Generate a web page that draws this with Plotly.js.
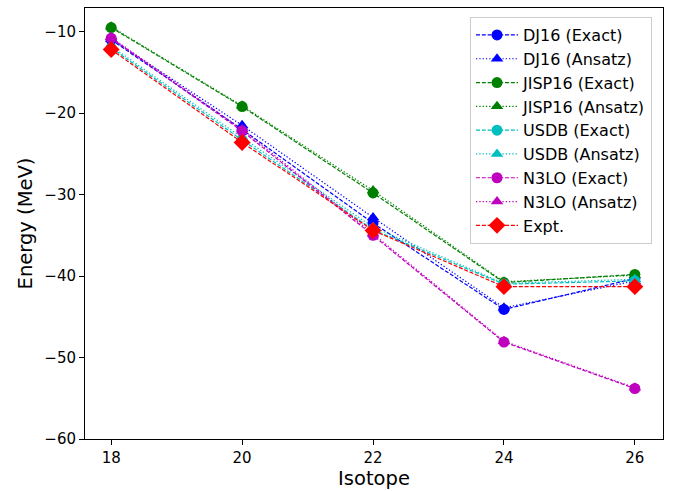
<!DOCTYPE html>
<html>
<head>
<meta charset="utf-8">
<script src="https://cdn.plot.ly/plotly-3.0.1.min.js"></script>
<style>html,body{margin:0;padding:0;background:#fff;}#chart{width:683px;height:491px;}</style>
</head>
<body>
<div id="chart"></div>
<script>
const isotopes = [18, 20, 22, 24, 26];
const dj16Exact = [-11.0, -22.0, -33.5, -44.1, -40.3];
const dj16Ansatz = [-10.9, -21.5, -32.8, -43.9, -40.6];
const jisp16Exact = [-9.5, -19.2, -29.8, -40.8, -39.8];
const jisp16Ansatz = [-9.4, -19.1, -29.5, -40.7, -39.9];
const usdbExact = [-12.0, -23.3, -34.3, -41.0, -40.6];
const usdbAnsatz = [-11.8, -23.0, -34.0, -40.9, -40.4];
const n3loExact = [-10.8, -22.2, -35.0, -48.1, -53.8];
const n3loAnsatz = [-10.7, -22.0, -34.8, -48.0, -53.7];
const expt = [-12.2, -23.6, -34.4, -41.3, -41.3];

const seriesNames = ['DJ16 (Exact)', 'DJ16 (Ansatz)', 'JISP16 (Exact)', 'JISP16 (Ansatz)',
  'USDB (Exact)', 'USDB (Ansatz)', 'N3LO (Exact)', 'N3LO (Ansatz)', 'Expt.'];
const seriesData = [dj16Exact, dj16Ansatz, jisp16Exact, jisp16Ansatz, usdbExact, usdbAnsatz, n3loExact, n3loAnsatz, expt];
const colors = ['#0000ff', '#0000ff', '#008000', '#008000', '#00bfbf', '#00bfbf', '#bf00bf', '#bf00bf', '#ff0000'];
const dashes = ['4px,1.8px', '1.3px,2px', '4px,1.8px', '1.3px,2px', '4px,1.8px', '1.3px,2px', '4px,1.8px', '1.3px,2px', '4px,1.8px'];
const symbols = ['circle', 'triangle-up', 'circle', 'triangle-up', 'circle', 'triangle-up', 'circle', 'triangle-up', 'diamond'];
const sizes = [11, 11, 11, 11, 11, 11, 11, 11, 13];

const traces = seriesNames.map((n, i) => ({
  x: isotopes, y: seriesData[i], name: n, type: 'scatter', mode: 'lines+markers',
  legendgroup: 'g' + i,
  line: {color: colors[i], width: 1.2, dash: dashes[i]},
  marker: {color: colors[i], symbol: symbols[i], size: sizes[i]}
}));

const layout = {
  width: 683, height: 491,
  margin: {l: 85, r: 20, t: 8, b: 52},
  paper_bgcolor: '#fff', plot_bgcolor: '#fff',
  font: {family: 'DejaVu Sans', size: 15, color: '#000'},
  showlegend: true,
  legend: {x: 0.981, xanchor: 'right', y: 0.979, yanchor: 'top', bgcolor: '#fff',
    bordercolor: '#cccccc', borderwidth: 1, font: {size: 16}, tracegroupgap: 0,
    itemwidth: 42, traceorder: 'grouped'},
  xaxis: {range: [17.6, 26.43], tickvals: [18, 20, 22, 24, 26], ticks: 'outside', ticklen: 5,
    tickcolor: '#000', showline: true, mirror: true, linecolor: '#000', linewidth: 1,
    showgrid: false, zeroline: false, title: {text: 'Isotope', font: {size: 19.5}, standoff: 2}},
  yaxis: {range: [-60, -7.1], tickvals: [-10, -20, -30, -40, -50, -60],
    ticktext: ['\u221210', '\u221220', '\u221230', '\u221240', '\u221250', '\u221260'],
    ticks: 'outside', ticklen: 5, tickcolor: '#000', showline: true, mirror: true,
    linecolor: '#000', linewidth: 1, showgrid: false, zeroline: false,
    title: {text: 'Energy (MeV)', font: {size: 19.5}, standoff: 6}}
};
Plotly.newPlot('chart', traces, layout, {displayModeBar: false});
</script>
</body>
</html>
